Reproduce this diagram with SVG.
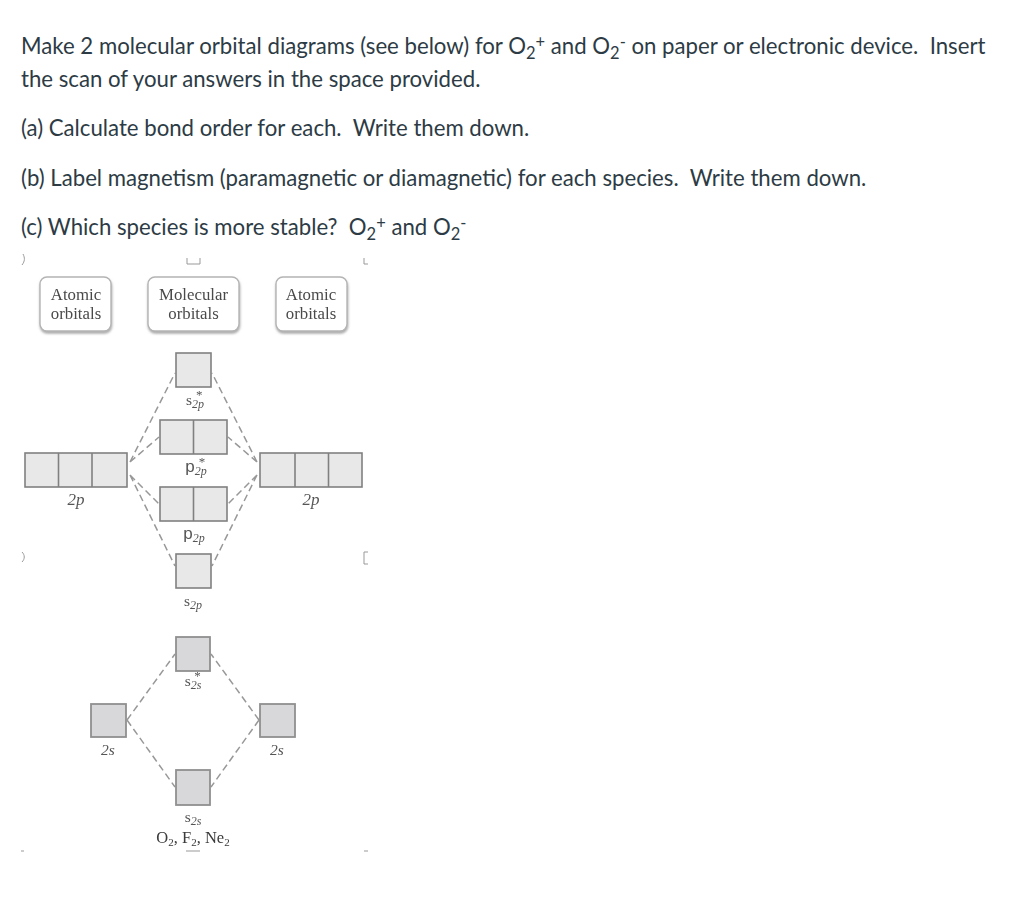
<svg xmlns="http://www.w3.org/2000/svg" width="1024" height="918" viewBox="0 0 1024 918">
<style>
.q{font-family:Lato,"Open Sans",sans-serif;font-size:22.2px;fill:#2d3b45;white-space:pre}
.s{font-size:16.5px}
.h{font-family:"Liberation Serif",serif;font-size:16.8px;fill:#4a4a4a;text-anchor:middle}
.i{font-style:italic}
.l{font-family:"Liberation Serif",serif;font-size:15.5px;fill:#555;text-anchor:middle}
.lg{font-size:17px}
.sb{font-size:12px}
.st{font-size:13px}
.hb{fill:#fff;stroke:#b4b4b4;stroke-width:1.4}
.a{fill:#e8e8e8;stroke:#808080;stroke-width:1.6}
.b{fill:#d8d8da;stroke:#909090;stroke-width:1.8}
.c{fill:none;stroke:#989898;stroke-width:1.5;stroke-dasharray:7 4}
.m{fill:none;stroke:#999;stroke-width:1}
</style>
<defs>
<filter id="blur" x="-5%" y="-5%" width="110%" height="110%"><feGaussianBlur stdDeviation="0.55"/></filter>
<filter id="sh" x="-20%" y="-20%" width="140%" height="150%"><feDropShadow dx="0.5" dy="2" stdDeviation="1.2" flood-color="#888" flood-opacity="0.7"/></filter>
</defs>
<rect width="1024" height="918" fill="#fff"/>
<g id="question">
<text class="q" x="21" y="54">Make 2 molecular orbital diagrams (see below) for O<tspan class="s" dy="5">2</tspan><tspan class="s" dy="-11">+</tspan><tspan dy="6"> and O</tspan><tspan class="s" dy="5">2</tspan><tspan class="s" dy="-11">-</tspan><tspan dy="6"> on paper or electronic device.  Insert</tspan></text>
<text class="q" x="21" y="87">the scan of your answers in the space provided.</text>
<text class="q" x="21" y="135.500">(a) Calculate bond order for each.  Write them down.</text>
<text class="q" x="21" y="185.500">(b) Label magnetism (paramagnetic or diamagnetic) for each species.  Write them down.</text>
<text class="q" x="21" y="234.500">(c) Which species is more stable?  O<tspan class="s" dy="5">2</tspan><tspan class="s" dy="-11">+</tspan><tspan dy="6"> and O</tspan><tspan class="s" dy="5">2</tspan><tspan class="s" dy="-11">-</tspan></text>
</g>
<g filter="url(#blur)">
<g id="connectors">
<path class="c" d="M130 462L175 373M130 462L159 437M130 475L159 504M130 475L175 566"/>
<path class="c" d="M257 462L212 373M257 462L228 437M257 475L228 504M257 475L212 566"/>
<path class="c" d="M127 720L175 654M127 720L175 787M259 720L211 654M259 720L211 787"/>
</g>
<g id="marks">
<path class="m" d="M23 254C25 258 25 261 22 265M187 258V264H200V258M364 258V264H368M22 552C25 555 25 559 22 562M368 552H364V564H368M21 851H24M186 851H200M364 851H368"/>
</g>
<g id="hdr-left"><rect class="hb" filter="url(#sh)" x="40" y="277" width="71" height="54" rx="7"/><text class="h" x="76" y="300">Atomic</text><text class="h" x="76" y="319">orbitals</text></g>
<g id="hdr-mid"><rect class="hb" filter="url(#sh)" x="148" y="277" width="91" height="54" rx="7"/><text class="h" x="193.500" y="300">Molecular</text><text class="h" x="193.500" y="319">orbitals</text></g>
<g id="hdr-right"><rect class="hb" filter="url(#sh)" x="276" y="277" width="71" height="54" rx="7"/><text class="h" x="311" y="300">Atomic</text><text class="h" x="311" y="319">orbitals</text></g>
<g id="s2p-star"><rect class="a" x="176" y="353" width="35" height="34"/><text class="l" x="195" y="405">s<tspan class="i sb" dy="3">2p</tspan><tspan class="st" dx="-8" dy="-9">*</tspan></text></g>
<g id="p2p-star"><rect class="a" x="160" y="420" width="67" height="34"/><path class="a" d="M193.500 420V454"/><text class="l" x="196" y="472"><tspan class="lg" font-family="Liberation Sans">p</tspan><tspan class="i sb" dy="3">2p</tspan><tspan class="st" dx="-8" dy="-9">*</tspan></text></g>
<g id="left-2p"><rect class="a" x="25" y="453" width="102" height="34"/><path class="a" d="M58.500 453V487M92 453V487"/><text class="l i lg" x="76" y="505">2p</text></g>
<g id="right-2p"><rect class="a" x="260" y="453" width="102" height="34"/><path class="a" d="M295 453V487M328.500 453V487"/><text class="l i lg" x="311" y="505">2p</text></g>
<g id="p2p"><rect class="a" x="160" y="487" width="67" height="34"/><path class="a" d="M193.500 487V521"/><text class="l" x="194" y="539"><tspan class="lg" font-family="Liberation Sans">p</tspan><tspan class="i sb" dy="3">2p</tspan></text></g>
<g id="s2p"><rect class="a" x="176" y="554" width="35" height="34"/><text class="l" x="193" y="606">s<tspan class="i sb" dy="3">2p</tspan></text></g>
<g id="s2s-star"><rect class="b" x="176" y="637" width="34" height="34"/><text class="l" x="193" y="686">s<tspan class="i sb" dy="3">2s</tspan><tspan class="st" dx="-7" dy="-9">*</tspan></text></g>
<g id="left-2s"><rect class="b" x="91" y="704" width="35" height="33"/><text class="l i" x="108" y="755">2s</text></g>
<g id="right-2s"><rect class="b" x="260" y="704" width="35" height="33"/><text class="l i" x="277" y="755">2s</text></g>
<g id="s2s"><rect class="b" x="176" y="770" width="34" height="35"/><text class="l" x="193" y="822">s<tspan class="i sb" dy="3">2s</tspan></text></g>
<g id="species"><text x="193" y="843" font-family="Liberation Serif" font-size="16.5" fill="#3a3a3a" text-anchor="middle">O<tspan font-size="11" dy="3">2</tspan><tspan dy="-3">, F</tspan><tspan font-size="11" dy="3">2</tspan><tspan dy="-3">, Ne</tspan><tspan font-size="11" dy="3">2</tspan></text></g>
</g>
</svg>
